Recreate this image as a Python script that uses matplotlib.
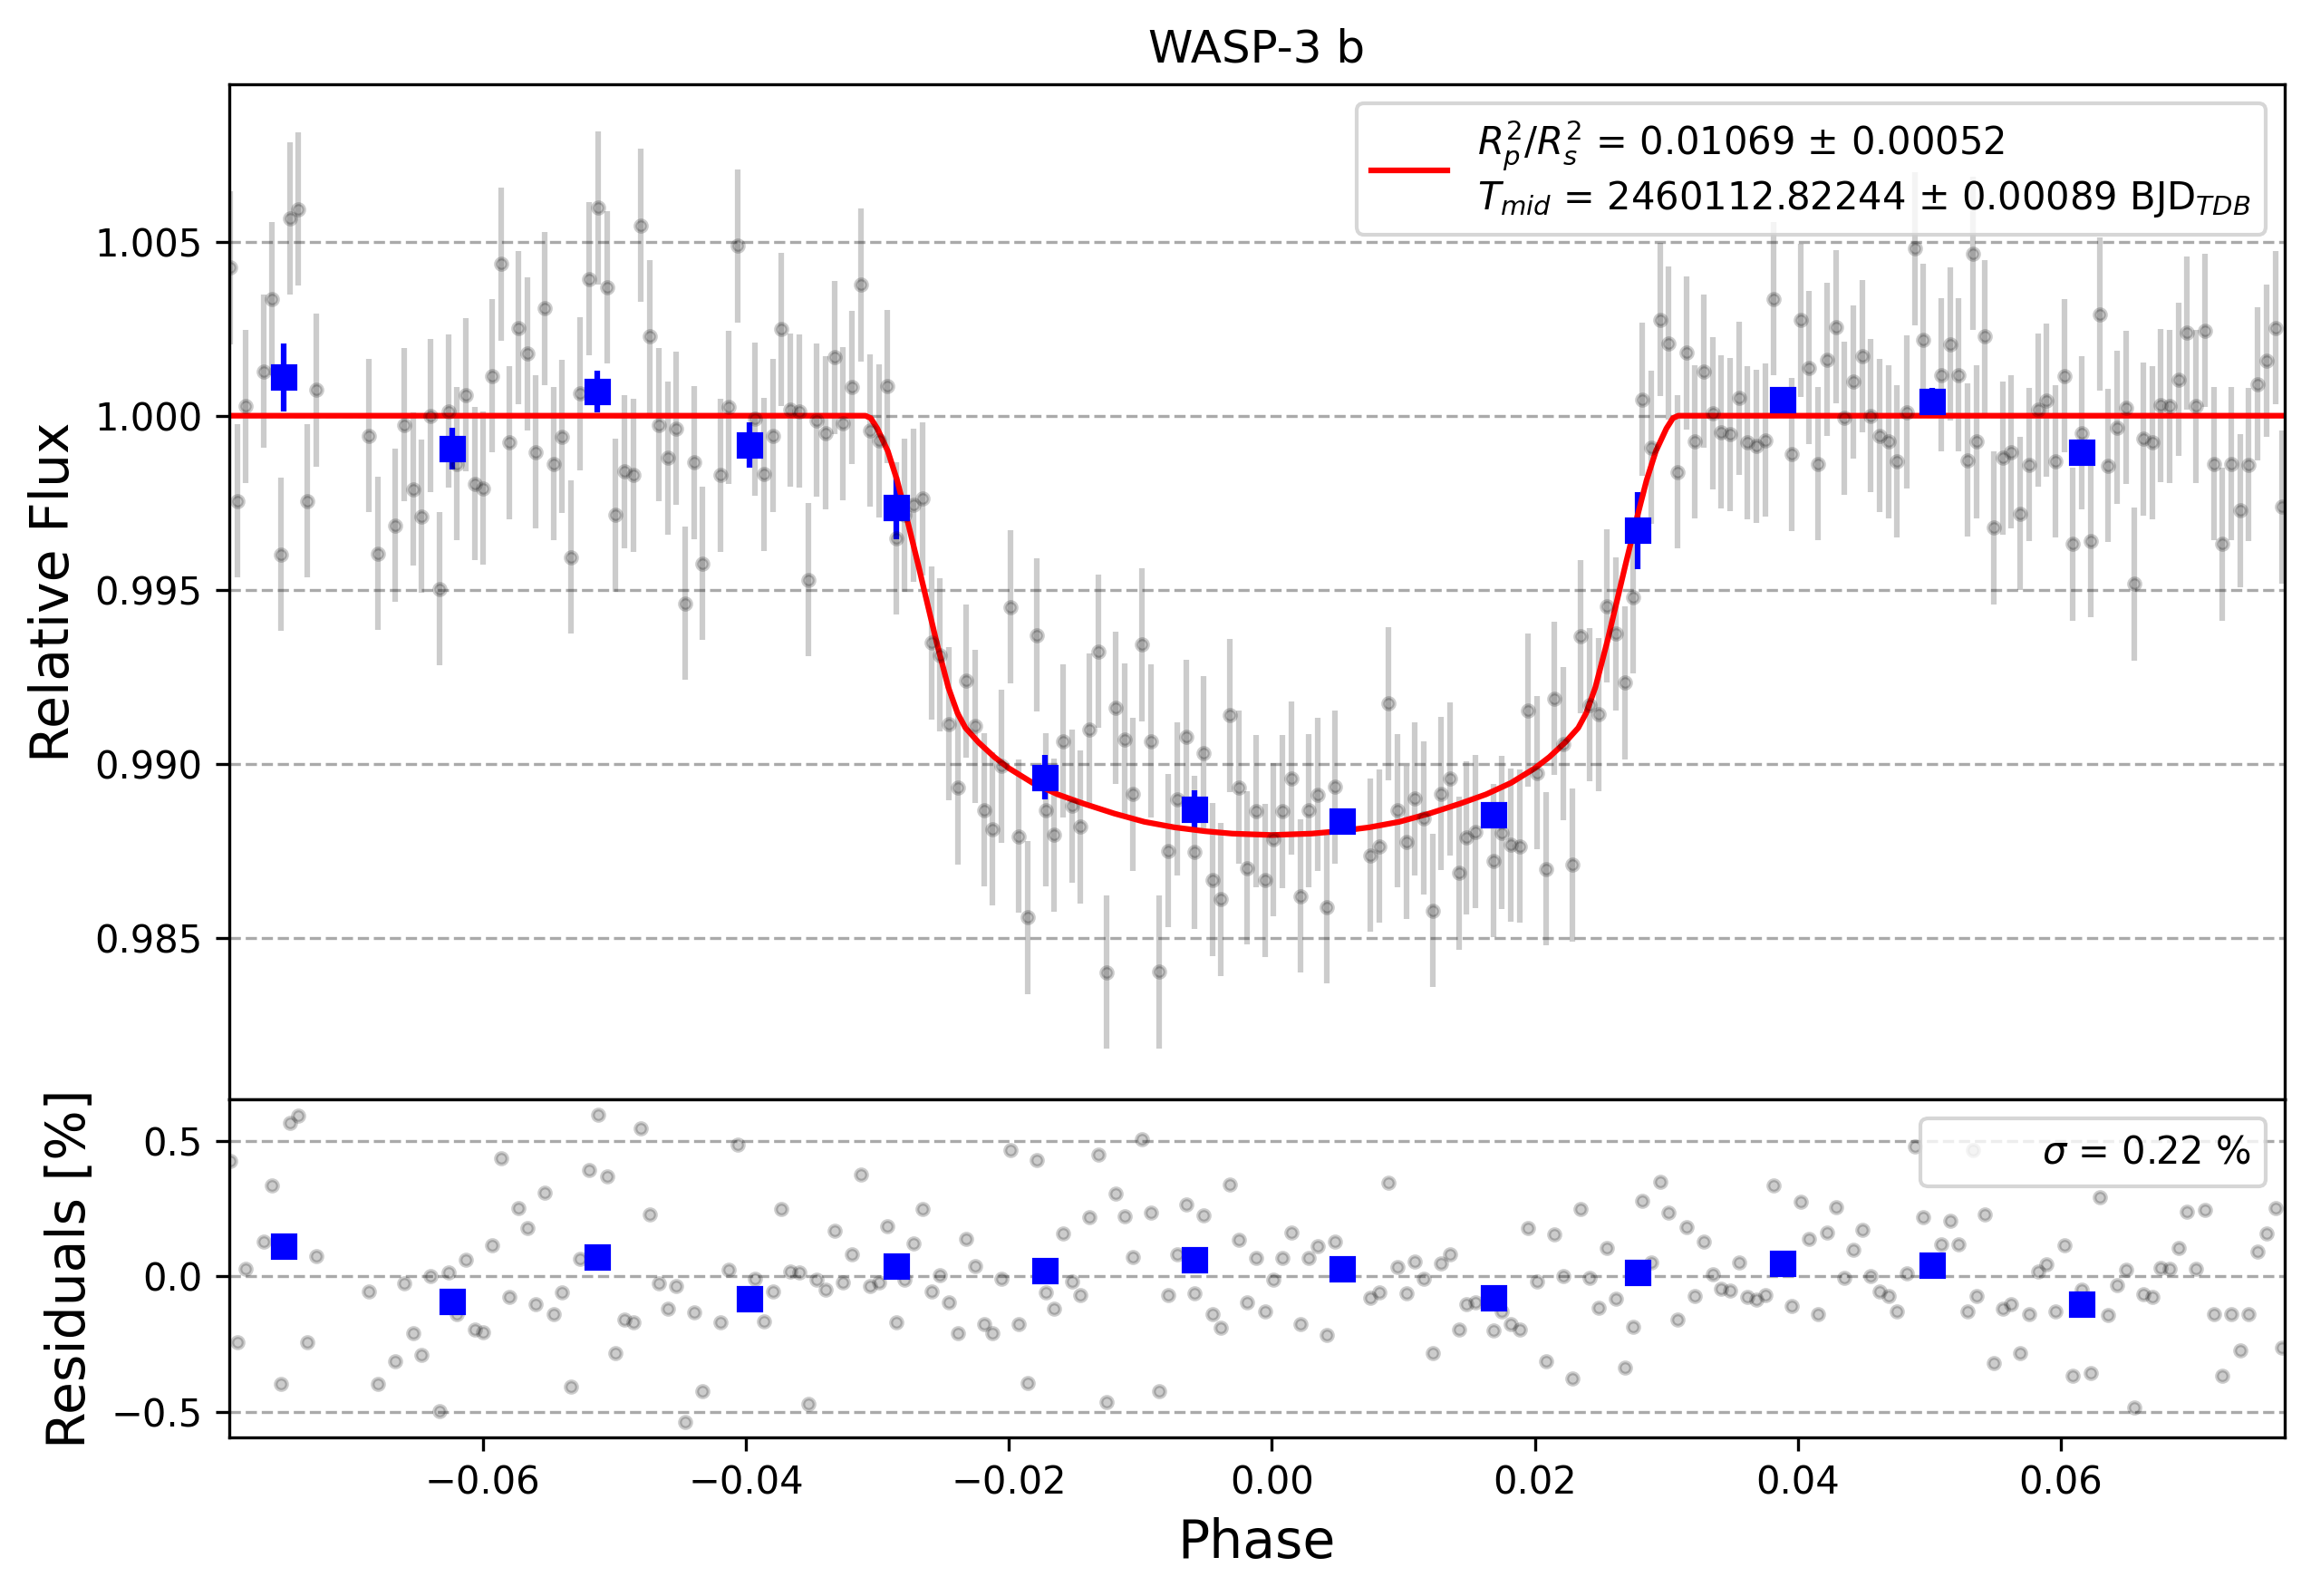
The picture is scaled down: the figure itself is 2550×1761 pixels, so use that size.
import matplotlib
matplotlib.use("Agg")
import matplotlib.pyplot as plt
from matplotlib.ticker import MultipleLocator, FormatStrFormatter
import numpy as np

# unbinned points: phase and residual [%] (flux = model + residual)
phase = [
    -0.07920, -0.07863, -0.07801, -0.07663, -0.07601, -0.07532, -0.07466, -0.07401, -0.07332, -0.07264,
    -0.06864, -0.06795, -0.06664, -0.06595, -0.06526, -0.06464, -0.06395, -0.06326, -0.06257, -0.06195,
    -0.06126, -0.06058, -0.05996, -0.05927, -0.05860, -0.05796, -0.05727, -0.05658, -0.05596, -0.05527,
    -0.05458, -0.05396, -0.05327, -0.05258, -0.05194, -0.05125, -0.05056, -0.04994, -0.04925, -0.04856,
    -0.04797, -0.04732, -0.04659, -0.04590, -0.04528, -0.04459, -0.04390, -0.04328, -0.04190, -0.04128,
    -0.04059, -0.03928, -0.03859, -0.03790, -0.03728, -0.03659, -0.03591, -0.03522, -0.03462, -0.03393,
    -0.03324, -0.03262, -0.03193, -0.03122, -0.03053, -0.02984, -0.02922, -0.02853, -0.02791, -0.02722,
    -0.02653, -0.02584, -0.02522, -0.02453, -0.02385, -0.02323, -0.02254, -0.02185, -0.02123, -0.02054,
    -0.01987, -0.01925, -0.01856, -0.01787, -0.01718, -0.01654, -0.01588, -0.01519, -0.01454, -0.01385,
    -0.01316, -0.01254, -0.01185, -0.01117, -0.01055, -0.00986, -0.00917, -0.00855, -0.00786, -0.00717,
    -0.00648, -0.00586, -0.00517, -0.00448, -0.00386, -0.00317, -0.00248, -0.00186, -0.00117, -0.00049,
    0.00013, 0.00082, 0.00151, 0.00220, 0.00282, 0.00351, 0.00420, 0.00482, 0.00751, 0.00820,
    0.00884, 0.00953, 0.01022, 0.01084, 0.01153, 0.01222, 0.01284, 0.01353, 0.01422, 0.01481,
    0.01550, 0.01688, 0.01750, 0.01819, 0.01888, 0.01950, 0.02019, 0.02088, 0.02150, 0.02219,
    0.02288, 0.02350, 0.02419, 0.02487, 0.02549, 0.02618, 0.02687, 0.02749, 0.02818, 0.02887,
    0.02956, 0.03018, 0.03087, 0.03156, 0.03218, 0.03287, 0.03356, 0.03418, 0.03487, 0.03556,
    0.03618, 0.03686, 0.03755, 0.03817, 0.03955, 0.04024, 0.04086, 0.04155, 0.04224, 0.04293,
    0.04355, 0.04424, 0.04493, 0.04555, 0.04622, 0.04691, 0.04756, 0.04825, 0.04891, 0.04955,
    0.05093, 0.05162, 0.05224, 0.05293, 0.05334, 0.05362, 0.05424, 0.05493, 0.05562, 0.05624,
    0.05693, 0.05762, 0.05831, 0.05893, 0.05962, 0.06030, 0.06092, 0.06161, 0.06230, 0.06299,
    0.06361, 0.06430, 0.06499, 0.06561, 0.06630, 0.06699, 0.06761, 0.06830, 0.06899, 0.06961,
    0.07030, 0.07099, 0.07167, 0.07230, 0.07299, 0.07367, 0.07429, 0.07498, 0.07567, 0.07631,
    0.07684,
]
residual = [
    0.426, -0.245, 0.027, 0.128, 0.336, -0.399, 0.567, 0.594, -0.245, 0.074,
    -0.057, -0.396, -0.315, -0.026, -0.211, -0.289, 0.000, -0.498, 0.013, -0.138,
    0.060, -0.195, -0.208, 0.114, 0.436, -0.077, 0.252, 0.178, -0.104, 0.309,
    -0.138, -0.060, -0.406, 0.064, 0.393, 0.597, 0.369, -0.285, -0.161, -0.171,
    0.547, 0.228, -0.026, -0.121, -0.036, -0.539, -0.134, -0.425, -0.171, 0.025,
    0.488, -0.009, -0.168, -0.057, 0.248, 0.017, 0.013, -0.472, -0.013, -0.050,
    0.168, -0.022, 0.082, 0.376, -0.036, -0.022, 0.185, -0.171, -0.013, 0.121,
    0.248, -0.057, 0.003, -0.097, -0.211, 0.138, 0.037, -0.178, -0.211, -0.009,
    0.466, -0.178, -0.395, 0.430, -0.060, -0.121, 0.158, -0.019, -0.070, 0.218,
    0.451, -0.463, 0.305, 0.221, 0.070, 0.507, 0.235, -0.423, -0.070, 0.082,
    0.265, -0.064, 0.225, -0.138, -0.191, 0.339, 0.134, -0.097, 0.067, -0.131,
    -0.013, 0.067, 0.161, -0.178, 0.067, 0.111, -0.215, 0.128, -0.081, -0.060,
    0.346, 0.034, -0.064, 0.054, -0.009, -0.282, 0.047, 0.081, -0.198, -0.104,
    -0.097, -0.201, -0.131, -0.178, -0.198, 0.178, -0.019, -0.315, 0.154, 0.000,
    -0.376, 0.248, -0.007, -0.117, 0.104, -0.084, -0.336, -0.185, 0.279, 0.050,
    0.349, 0.235, -0.161, 0.181, -0.074, 0.128, 0.007, -0.047, -0.054, 0.050,
    -0.077, -0.087, -0.070, 0.336, -0.111, 0.275, 0.138, -0.138, 0.161, 0.255,
    -0.007, 0.097, 0.171, 0.000, -0.057, -0.074, -0.131, 0.010, 0.480, 0.218,
    0.117, 0.205, 0.117, -0.128, 0.466, -0.074, 0.228, -0.322, -0.121, -0.104,
    -0.282, -0.141, 0.017, 0.044, -0.131, 0.114, -0.369, -0.050, -0.359, 0.292,
    -0.144, -0.034, 0.023, -0.483, -0.067, -0.077, 0.030, 0.027, 0.104, 0.238,
    0.027, 0.245, -0.138, -0.369, -0.138, -0.272, -0.141, 0.091, 0.158, 0.252,
    -0.262,
]
flux_err = 0.0022

# binned points
bin_phase = [-0.07516, -0.06230, -0.05127, -0.03974, -0.02853, -0.01723, -0.00586,
             0.00537, 0.01688, 0.02784, 0.03886, 0.05024, 0.06161]
bin_flux = [1.00110, 0.99906, 1.00070, 0.99916, 0.99735, 0.98961, 0.98870,
            0.98834, 0.98854, 0.99670, 1.00046, 1.00040, 0.99896]
bin_err = [0.00098, 0.0006, 0.0006, 0.00065, 0.0009, 0.00064, 0.00054,
           0.0002, 0.0002, 0.0011, 0.0002, 0.0004, 0.0002]
bin_residual = [0.111, -0.094, 0.070, -0.084, 0.037, 0.020, 0.060,
                0.027, -0.081, 0.013, 0.047, 0.040, -0.104]

# transit model curve
model_phase = [-0.0793, -0.0309, -0.0305, -0.0300, -0.0292, -0.0285, -0.0278, -0.0269,
               -0.0262, -0.0255, -0.0246, -0.0239, -0.0233, -0.0223, -0.0211, -0.0200,
               -0.0182, -0.0163, -0.0143, -0.0120, -0.0097, -0.0074, -0.0051, -0.0030,
               0.0,
               0.0030, 0.0051, 0.0074, 0.0097, 0.0120, 0.0143, 0.0163, 0.0182,
               0.0200, 0.0211, 0.0223, 0.0233, 0.0239, 0.0246, 0.0255, 0.0262,
               0.0269, 0.0278, 0.0285, 0.0292, 0.0300, 0.0305, 0.0309, 0.0770]
model_flux = [1.0, 1.0, 0.99993, 0.99963, 0.99898, 0.99815, 0.99712, 0.99573,
              0.99461, 0.99350, 0.99219, 0.99145, 0.99103, 0.99061, 0.99019, 0.98987,
              0.98945, 0.98912, 0.98885, 0.98857, 0.98833, 0.98817, 0.98806, 0.98799,
              0.98795,
              0.98799, 0.98806, 0.98817, 0.98833, 0.98857, 0.98885, 0.98912, 0.98945,
              0.98987, 0.99019, 0.99061, 0.99103, 0.99145, 0.99219, 0.99350, 0.99461,
              0.99573, 0.99712, 0.99815, 0.99898, 0.99963, 0.99993, 1.0, 1.0]

label_fit = (r'$R_p^2/R_s^2$ = 0.01069 ± 0.00052' + '\n'
             + r'$T_{mid}$ = 2460112.82244 ± 0.00089 BJD$_{TDB}$')
label_sigma = r'$\sigma$ = 0.22 %'

phase = np.array(phase)
residual = np.array(residual)
flux = np.interp(phase, model_phase, model_flux) + residual / 100

fig = plt.figure(figsize=(8.5, 5.87), dpi=300)
gs = fig.add_gridspec(2, 1, height_ratios=[3, 1], hspace=0,
                      left=0.0991, right=0.9885, top=0.9471, bottom=0.0994)
ax1 = fig.add_subplot(gs[0])
ax2 = fig.add_subplot(gs[1], sharex=ax1)

ax1.errorbar(phase, flux, yerr=flux_err, fmt='ko', ms=3, alpha=0.2)
ax1.errorbar(bin_phase, bin_flux, yerr=bin_err, fmt='bs', ms=6)
ax1.plot(model_phase, model_flux, 'r-', lw=1.5, label=label_fit)
ax1.set_ylim(0.98036, 1.00952)
ax1.yaxis.set_major_locator(MultipleLocator(0.005))
ax1.yaxis.set_major_formatter(FormatStrFormatter('%.3f'))
ax1.yaxis.grid(True, ls='--', color='#aaaaaa')
ax1.tick_params(axis='x', bottom=False, labelbottom=False)
ax1.set_ylabel('Relative Flux', fontsize=14)
ax1.set_title('WASP-3 b')
ax1.legend(loc='upper right')

ax2.plot(phase, residual, 'ko', ms=3, alpha=0.2)
ax2.plot(bin_phase, bin_residual, 'bs', ms=6)
ax2.plot([], [], ' ', label=label_sigma)
ax2.set_ylim(-0.595, 0.655)
ax2.yaxis.set_major_locator(MultipleLocator(0.5))
ax2.yaxis.grid(True, ls='--', color='#aaaaaa')
ax2.set_xlim(-0.0793, 0.0770)
ax2.xaxis.set_major_locator(MultipleLocator(0.02))
ax2.set_ylabel('Residuals [%]', fontsize=14)
ax2.set_xlabel('Phase', fontsize=14)
ax2.legend(loc='upper right')

fig.savefig('out.png', dpi=300)
